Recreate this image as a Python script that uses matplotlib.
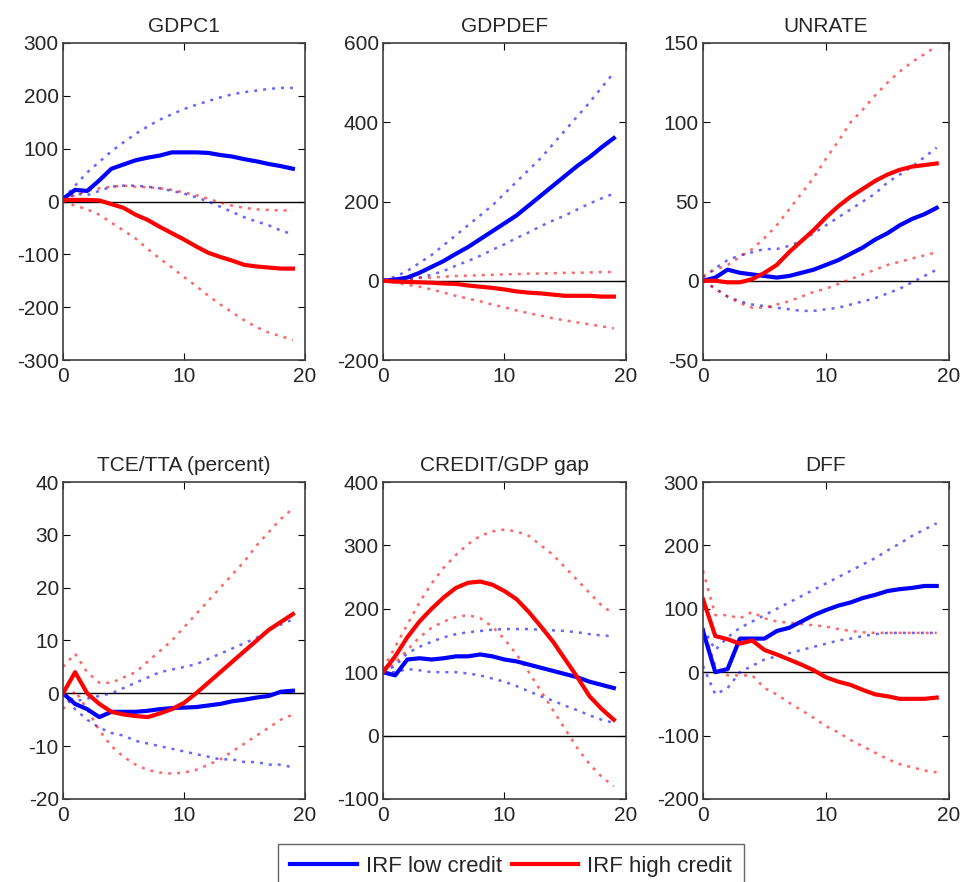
import matplotlib
matplotlib.use('Agg')
import matplotlib.pyplot as plt

plt.rcParams['font.family'] = ['Liberation Sans', 'DejaVu Sans']
plt.rcParams['axes.unicode_minus'] = False

horizon = list(range(20))

titles = ['GDPC1', 'GDPDEF', 'UNRATE', 'TCE/TTA (percent)', 'CREDIT/GDP gap', 'DFF']
ylims = [(-300, 300), (-200, 600), (-50, 150), (-20, 40), (-100, 400), (-200, 300)]
yticks = [range(-300, 301, 100), range(-200, 601, 200), range(-50, 151, 50),
          range(-20, 41, 10), range(-100, 401, 100), range(-200, 301, 100)]

# IRF low credit (blue): point estimate, upper and lower bands
low_irf = [
    [5, 22, 20, 40, 62, 70, 78, 83, 87, 93, 93, 93, 92, 88, 85, 80, 76, 71, 67, 62],
    [0, 3, 8, 20, 35, 50, 68, 85, 105, 125, 145, 165, 190, 215, 240, 265, 290, 312, 337, 360],
    [0, 2, 7, 5, 4, 3, 2, 3, 5, 7, 10, 13, 17, 21, 26, 30, 35, 39, 42, 46],
    [0, -2, -3, -4.5, -3.5, -3.5, -3.5, -3.3, -3, -2.8, -2.7, -2.6, -2.3, -2, -1.5, -1.2, -0.8, -0.5, 0.3, 0.5],
    [100, 95, 120, 122, 120, 122, 125, 125, 128, 125, 120, 117, 112, 107, 102, 97, 92, 85, 80, 75],
    [65, 0, 5, 53, 53, 53, 65, 70, 80, 90, 98, 105, 110, 117, 122, 128, 131, 133, 136, 136],
]
low_hi = [
    [5, 30, 55, 75, 95, 112, 128, 142, 155, 165, 175, 183, 190, 197, 203, 207, 210, 213, 215, 215],
    [2, 10, 25, 45, 65, 90, 115, 140, 165, 190, 220, 250, 280, 310, 345, 380, 415, 450, 488, 525],
    [2, 8, 13, 16, 18, 20, 20, 22, 25, 30, 35, 40, 45, 50, 55, 62, 67, 72, 78, 84],
    [0, -1.5, -1, -0.5, 0, 1, 2, 3, 4, 4.5, 5, 5.5, 6.5, 7.5, 8.5, 9.5, 10.5, 12, 13, 14],
    [100, 110, 130, 140, 148, 155, 160, 163, 165, 167, 168, 168, 168, 167, 166, 165, 163, 160, 158, 157],
    [70, 35, 55, 70, 80, 90, 100, 110, 120, 130, 140, 150, 160, 170, 180, 192, 203, 215, 225, 235],
]
low_lo = [
    [0, 15, 12, 20, 28, 30, 30, 28, 25, 20, 15, 8, 0, -10, -20, -30, -38, -45, -55, -62],
    [0, 0, 2, 8, 15, 25, 38, 50, 63, 78, 92, 108, 122, 138, 152, 165, 180, 195, 208, 220],
    [0, -5, -10, -13, -15, -16, -17, -18, -19, -19, -18, -17, -15, -13, -11, -8, -5, -1, 3, 7],
    [0, -3, -5, -6.5, -7.5, -8, -9, -9.5, -10, -10.5, -11, -11.5, -12, -12.5, -12.5, -13, -13, -13.5, -13.5, -14],
    [100, 100, 105, 103, 100, 100, 100, 98, 95, 90, 85, 78, 70, 62, 55, 47, 40, 32, 25, 20],
    [10, -35, -25, 0, 10, 20, 25, 30, 35, 40, 45, 50, 53, 57, 60, 62, 62, 62, 62, 62],
]

# IRF high credit (red)
high_irf = [
    [3, 3, 3, 2, -5, -12, -25, -35, -48, -60, -72, -85, -97, -105, -112, -120, -123, -125, -127, -127],
    [0, -2, -3, -4, -5, -7, -8, -12, -15, -18, -22, -27, -30, -32, -35, -38, -38, -38, -40, -40],
    [0, 0, -1, -1, 1, 5, 10, 18, 25, 32, 40, 47, 53, 58, 63, 67, 70, 72, 73, 74],
    [0, 4, 0, -2, -3.5, -4, -4.3, -4.5, -3.8, -3, -1.8, 0, 2, 4, 6, 8, 10, 12, 13.5, 15],
    [100, 125, 155, 180, 200, 218, 233, 241, 243, 238, 228, 215, 195, 172, 148, 120, 92, 62, 42, 25],
    [115, 57, 52, 45, 50, 35, 28, 20, 12, 3, -8, -15, -20, -28, -35, -38, -42, -42, -42, -40],
]
high_hi = [
    [5, 12, 20, 25, 28, 30, 28, 27, 25, 22, 17, 12, 5, -2, -8, -12, -15, -16, -17, -17],
    [0, 3, 5, 7, 8, 10, 12, 13, 14, 15, 16, 17, 18, 18, 19, 20, 20, 21, 22, 22],
    [3, 7, 10, 15, 20, 27, 35, 45, 55, 65, 77, 88, 100, 108, 117, 125, 132, 138, 143, 148],
    [5, 7.5, 4, 2, 2, 3, 4, 6, 8, 10, 12.5, 15, 17.5, 20, 22.5, 25, 28, 30.5, 33, 35],
    [105, 140, 175, 210, 240, 265, 285, 302, 315, 322, 325, 322, 315, 300, 285, 265, 245, 225, 205, 192],
    [160, 90, 90, 85, 95, 85, 80, 78, 76, 74, 72, 68, 65, 63, 62, 62, 62, 62, 62, 62],
]
high_lo = [
    [0, -8, -15, -25, -40, -55, -70, -90, -108, -125, -143, -160, -178, -195, -210, -225, -238, -248, -255, -262],
    [0, -5, -10, -15, -22, -30, -38, -45, -52, -60, -67, -75, -82, -88, -95, -100, -105, -110, -115, -120],
    [0, -5, -10, -14, -17, -17, -15, -13, -10, -7, -5, -2, 1, 4, 7, 10, 12, 14, 16, 18],
    [-3, 0.5, -3, -7, -10, -12, -13.5, -14.5, -15, -15.2, -15, -14.5, -13.5, -12.5, -11, -9.5, -8, -6.5, -5, -4],
    [100, 115, 135, 155, 170, 180, 187, 190, 185, 172, 152, 128, 100, 70, 40, 10, -20, -45, -65, -80],
    [70, 10, -5, -5, -5, -25, -35, -48, -60, -72, -85, -95, -107, -117, -127, -137, -145, -150, -155, -158],
]

W, H = 964, 882
col_left = [63, 383, 703]
col_width = [242, 243, 246]
row_top = [43, 482]
row_height = 317

fig = plt.figure(figsize=(W / 100, H / 100), dpi=100)

dot = (0, (1.2, 2.4))
for i in range(6):
    r, c = divmod(i, 3)
    ax = fig.add_axes([col_left[c] / W, 1 - (row_top[r] + row_height) / H,
                       col_width[c] / W, row_height / H])
    ax.axhline(0, color='black', lw=1, zorder=1)
    ax.plot(horizon, low_hi[i], color='blue', ls=dot, lw=1.8, alpha=0.6)
    ax.plot(horizon, low_lo[i], color='blue', ls=dot, lw=1.8, alpha=0.6)
    ax.plot(horizon, high_hi[i], color='red', ls=dot, lw=1.8, alpha=0.6)
    ax.plot(horizon, high_lo[i], color='red', ls=dot, lw=1.8, alpha=0.6)
    l1, = ax.plot(horizon, low_irf[i], color='blue', lw=3, label='IRF low credit')
    l2, = ax.plot(horizon, high_irf[i], color='red', lw=3, label='IRF high credit')
    ax.set_xlim(0, 20)
    ax.set_ylim(*ylims[i])
    ax.set_xticks([0, 10, 20])
    ax.set_yticks(list(yticks[i]))
    ax.tick_params(direction='in', top=True, right=True, labelsize=15,
                   labelcolor='#262626', length=5)
    ax.tick_params(axis='y', pad=3)
    ax.tick_params(axis='x', pad=5)
    for s in ax.spines.values():
        s.set_color('#404040')
        s.set_linewidth(1.2)
    ax.set_title(titles[i], fontsize=15, color='#262626', pad=8)

fig.legend([l1, l2], ['IRF low credit', 'IRF high credit'], loc='upper center',
           bbox_to_anchor=(511 / W, 1 - 844 / H), ncol=2, fontsize=16,
           frameon=True, fancybox=False, edgecolor='#404040', handlelength=3.0,
           columnspacing=0.45, handletextpad=0.4, borderpad=0.55,
           borderaxespad=0, labelcolor='#262626')

fig.savefig('out.png', dpi=100)
